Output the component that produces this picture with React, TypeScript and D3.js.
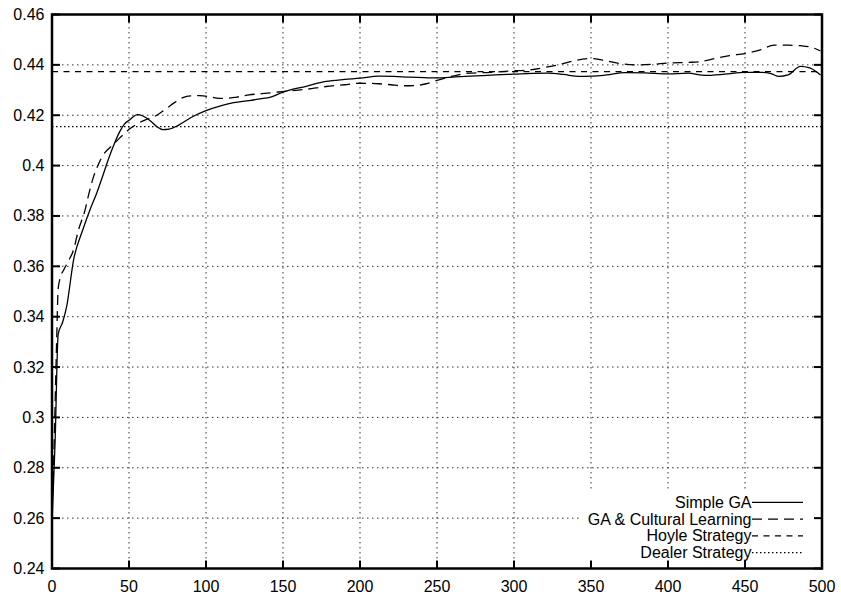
import React, { useEffect, useRef } from "react";
import * as d3 from "d3";

// generations / fitness
const simpleGens = [0, 2, 4, 7, 9.5, 14, 20, 25, 29, 33, 36.5, 40, 44, 47, 50.5, 53, 55.5, 59, 64, 68, 72, 76, 82, 90, 100, 110, 118, 128, 135, 142, 150, 165, 178, 190, 200, 212, 222, 232, 242, 250, 262, 275, 288, 300, 312, 322, 332, 342, 350, 360, 372, 385, 400, 413, 424, 437, 450, 461, 467, 472, 478, 486, 492, 499];
const simpleVals = [0.258, 0.29, 0.333, 0.338, 0.344, 0.3625, 0.3745, 0.383, 0.389, 0.396, 0.4023, 0.408, 0.4135, 0.4165, 0.4182, 0.4195, 0.4202, 0.4197, 0.4177, 0.4155, 0.4143, 0.4145, 0.416, 0.419, 0.4218, 0.4238, 0.425, 0.4258, 0.4265, 0.4272, 0.4292, 0.4315, 0.4334, 0.4342, 0.4347, 0.4355, 0.4354, 0.4351, 0.4349, 0.4348, 0.4352, 0.4356, 0.436, 0.4363, 0.4366, 0.4367, 0.4362, 0.4354, 0.4355, 0.436, 0.4369, 0.4368, 0.4364, 0.4367, 0.4358, 0.4363, 0.437, 0.437, 0.4365, 0.4354, 0.436, 0.4394, 0.4388, 0.436];

const cultGens = [0, 1, 2, 3, 4, 5, 8, 11, 14, 17, 21.5, 24, 27, 30, 33, 37, 40, 44, 48, 51, 56, 62, 68, 74, 80, 85, 90, 96, 102, 107, 113, 120, 128, 135, 142, 150, 165, 178, 190, 200, 212, 220, 228, 236, 243, 250, 260, 271, 285, 298, 310, 322, 330, 340, 350, 358, 368, 381, 390, 400, 413, 420, 428, 440, 450, 460, 469, 478, 486, 493, 499];
const cultVals = [0.262, 0.28, 0.305, 0.33, 0.351, 0.3546, 0.359, 0.3625, 0.3665, 0.374, 0.3824, 0.389, 0.3956, 0.4003, 0.404, 0.4068, 0.4085, 0.411, 0.4133, 0.4148, 0.4168, 0.4185, 0.42, 0.4225, 0.4252, 0.427, 0.4277, 0.4278, 0.4274, 0.4268, 0.4267, 0.4272, 0.4281, 0.4285, 0.4289, 0.4294, 0.4303, 0.4314, 0.4321, 0.4327, 0.4325, 0.4321, 0.4317, 0.4318, 0.4325, 0.4338, 0.4355, 0.4367, 0.437, 0.4376, 0.438, 0.4392, 0.4402, 0.4418, 0.4425, 0.4418, 0.4406, 0.44, 0.4402, 0.4407, 0.441, 0.4412, 0.4422, 0.4437, 0.4445, 0.446, 0.4478, 0.4478, 0.4476, 0.447, 0.4455];

const hoyleValue = 0.4373;
const dealerValue = 0.4155;

const xTicks = [0, 50, 100, 150, 200, 250, 300, 350, 400, 450, 500];
const yTicks = [0.24, 0.26, 0.28, 0.3, 0.32, 0.34, 0.36, 0.38, 0.4, 0.42, 0.44, 0.46];

const legendLabels = ["Simple GA", "GA & Cultural Learning", "Hoyle Strategy", "Dealer Strategy"];
const legendDash = ["", "10,6", "6,5.5", "1.5,2.5"];

const App = () => {
  const ref = useRef<SVGSVGElement>(null);

  useEffect(() => {
    const svg = d3.select(ref.current);
    svg.selectAll("*").remove();

    const x = d3.scaleLinear().domain([0, 500]).range([52, 822]);
    const y = d3.scaleLinear().domain([0.24, 0.46]).range([568.5, 14.5]);
    const [x0, x1] = x.range();
    const [y0, y1] = y.range();
    const font = "'Liberation Sans', Arial, sans-serif";

    // grid
    const grid = svg.append("g").attr("stroke", "#333").attr("stroke-width", 1).attr("stroke-dasharray", "1.5,3.5");
    grid.selectAll("line.v")
      .data(xTicks.slice(1, -1))
      .enter().append("line")
      .attr("x1", d => x(d)).attr("x2", d => x(d))
      .attr("y1", y0).attr("y2", y1);
    grid.selectAll("line.h")
      .data(yTicks.slice(1, -1))
      .enter().append("line")
      .attr("x1", x0).attr("x2", x1)
      .attr("y1", d => y(d)).attr("y2", d => y(d));

    // opaque key box
    svg.append("rect")
      .attr("x", 581).attr("y", 491)
      .attr("width", 236).attr("height", 76)
      .attr("fill", "#fff");

    // reference strategies
    svg.append("line")
      .attr("x1", x0).attr("x2", x1)
      .attr("y1", y(hoyleValue)).attr("y2", y(hoyleValue))
      .attr("stroke", "#000").attr("stroke-width", 1.3).attr("stroke-dasharray", legendDash[2]);
    svg.append("line")
      .attr("x1", x0).attr("x2", x1)
      .attr("y1", y(dealerValue)).attr("y2", y(dealerValue))
      .attr("stroke", "#000").attr("stroke-width", 1.3).attr("stroke-dasharray", legendDash[3]);

    const line = d3.line<[number, number]>()
      .x(d => x(d[0]))
      .y(d => y(d[1]))
      .curve(d3.curveMonotoneX);

    svg.append("path")
      .attr("d", line(simpleGens.map((g, i) => [g, simpleVals[i]]))!)
      .attr("fill", "none").attr("stroke", "#000").attr("stroke-width", 1.3);
    svg.append("path")
      .attr("d", line(cultGens.map((g, i) => [g, cultVals[i]]))!)
      .attr("fill", "none").attr("stroke", "#000").attr("stroke-width", 1.3)
      .attr("stroke-dasharray", legendDash[1]);

    // frame and mirrored ticks
    const tk = 8;
    const ticks = svg.append("g").attr("stroke", "#000").attr("stroke-width", 2);
    xTicks.forEach(t => {
      ticks.append("line").attr("x1", x(t)).attr("x2", x(t)).attr("y1", y0).attr("y2", y0 - tk);
      ticks.append("line").attr("x1", x(t)).attr("x2", x(t)).attr("y1", y1).attr("y2", y1 + tk);
    });
    yTicks.forEach(t => {
      ticks.append("line").attr("x1", x0).attr("x2", x0 + tk).attr("y1", y(t)).attr("y2", y(t));
      ticks.append("line").attr("x1", x1).attr("x2", x1 - tk).attr("y1", y(t)).attr("y2", y(t));
    });
    svg.append("rect")
      .attr("x", x0).attr("y", y1)
      .attr("width", x1 - x0).attr("height", y0 - y1)
      .attr("fill", "none").attr("stroke", "#000").attr("stroke-width", 2.5);

    // tick labels
    svg.append("g").selectAll("text")
      .data(xTicks).enter().append("text")
      .attr("x", d => x(d)).attr("y", 591.5)
      .attr("text-anchor", "middle")
      .attr("font-family", font).attr("font-size", 16)
      .text(d => String(d));
    svg.append("g").selectAll("text")
      .data(yTicks).enter().append("text")
      .attr("x", 44.5).attr("y", d => y(d) + 5.5)
      .attr("text-anchor", "end")
      .attr("font-family", font).attr("font-size", 16)
      .text(d => String(+d.toFixed(2)));

    // legend
    const key = svg.append("g");
    legendLabels.forEach((lab, i) => {
      const by = 507.8 + i * 16.8;
      key.append("text")
        .attr("x", 751.5).attr("y", by)
        .attr("text-anchor", "end")
        .attr("font-family", font).attr("font-size", 16)
        .text(lab);
      key.append("line")
        .attr("x1", 752).attr("x2", 803)
        .attr("y1", by - 5.5).attr("y2", by - 5.5)
        .attr("stroke", "#000").attr("stroke-width", 1.3)
        .attr("stroke-dasharray", legendDash[i] || null);
    });
  }, []);

  return (
    <svg
      ref={ref}
      width={841}
      height={596}
      style={{ position: "absolute", left: 0, top: 0, background: "#fff" }}
    />
  );
};

export default App;
